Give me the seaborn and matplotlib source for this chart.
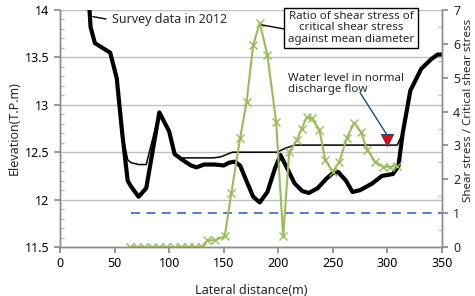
import numpy as np
import pandas as pd
import matplotlib
matplotlib.use("Agg")
import matplotlib.pyplot as plt
from matplotlib.ticker import MultipleLocator, FormatStrFormatter
import seaborn as sns

# ==============================
# Datos
# ==============================
# Sección transversal 2012 (línea gruesa)
dist_2012 = [25, 28, 32, 46, 52, 57, 62, 65, 72, 79, 91, 100, 105, 112, 120, 125,
             132, 142, 150, 155, 160, 165, 170, 177, 183, 190, 197, 202, 209, 215,
             222, 228, 236, 244, 250, 255, 262, 268, 275, 286, 295, 305, 310, 314,
             321, 331, 340, 346, 350]
elev_2012 = [14.4, 13.82, 13.65, 13.55, 13.28, 12.7, 12.2, 12.14, 12.03, 12.12, 12.92,
             12.72, 12.48, 12.42, 12.36, 12.34, 12.37, 12.37, 12.36, 12.39, 12.40,
             12.36, 12.22, 12.03, 11.97, 12.08, 12.33, 12.47, 12.31, 12.17, 12.09,
             12.07, 12.12, 12.22, 12.28, 12.29, 12.2, 12.08, 12.1, 12.17, 12.25,
             12.27, 12.35, 12.7, 13.15, 13.38, 13.48, 13.53, 13.53]

# Línea delgada
dist_fina = [57, 62, 65, 72, 79, 91, 100, 105, 110, 125, 140, 147, 158, 199, 206,
             215, 309, 314]
elev_fina = [12.7, 12.42, 12.39, 12.37, 12.37, 12.92, 12.72, 12.48, 12.44, 12.44,
             12.44, 12.45, 12.5, 12.5, 12.54, 12.575, 12.575, 12.7]

# Relación esfuerzo cortante / esfuerzo crítico (eje derecho)
dist_ratio = [64, 70.7, 77.4, 84, 90.8, 97.5, 104, 111, 117.6, 124, 130, 135, 142,
              151, 157, 165, 171, 177, 183, 190, 198, 204.5, 210, 217, 221.5, 226,
              230.7, 237.7, 243, 250, 256, 262.7, 269.5, 275.6, 281.7, 288.7, 296.3,
              302.5, 308.6]
ratio = [0, 0, 0, 0, 0, 0, 0, 0, 0, 0, 0, 0.2, 0.2, 0.32, 1.6, 3.21, 4.29, 5.96,
         6.62, 5.67, 3.70, 0.32, 2.8, 3.16, 3.5, 3.83, 3.80, 3.46, 2.57, 2.22, 2.52,
         3.21, 3.67, 3.40, 2.86, 2.52, 2.37, 2.37, 2.39]

# Línea de referencia (relación = 1)
dist_ref = [65, 350]
ratio_ref = [1, 1]

# Nivel de agua en caudal normal
dist_agua = [300]
ratio_agua = [3.16]

df_2012 = pd.DataFrame({"dist": dist_2012, "elev": elev_2012})
df_fina = pd.DataFrame({"dist": dist_fina, "elev": elev_fina})
df_ratio = pd.DataFrame({"dist": dist_ratio, "ratio": ratio})

# ==============================
# Gráfico
# ==============================
sns.set_theme(style="ticks")
plt.rcParams["font.family"] = ["Noto Sans", "DejaVu Sans"]

fig = plt.figure(figsize=(4.75, 2.96), dpi=100)
ax = fig.add_axes([60 / 475, 49 / 296, 382 / 475, 237 / 296])
ax2 = ax.twinx()

gris = "#8c8c8c"
verde = "#9bbb59"

sns.lineplot(data=df_fina, x="dist", y="elev", sort=False, color="black",
             linewidth=1.1, ax=ax)
sns.lineplot(data=df_2012, x="dist", y="elev", sort=False, color="black",
             linewidth=3.0, ax=ax)

sns.lineplot(x=dist_ref, y=ratio_ref, color="#4472c4", linewidth=1.3,
             linestyle=(0, (5, 3.5)), ax=ax2)
sns.lineplot(data=df_ratio, x="dist", y="ratio", sort=False, color=verde,
             linewidth=1.5, marker="x", markersize=6, markeredgewidth=1.0,
             markeredgecolor=verde, ax=ax2)
ax2.plot(dist_agua, ratio_agua, marker="v", markersize=8.5, color="#ff0000",
         markeredgecolor="#1f497d", markeredgewidth=0.8, linestyle="none")

# Ejes
ax.set_xlim(0, 350)
ax.set_ylim(11.5, 14)
ax2.set_ylim(0, 7)
ax.xaxis.set_major_locator(MultipleLocator(50))
ax.yaxis.set_major_locator(MultipleLocator(0.5))
ax.yaxis.set_minor_locator(MultipleLocator(0.1))
ax.yaxis.set_major_formatter(FormatStrFormatter("%g"))
ax2.yaxis.set_major_locator(MultipleLocator(1))
ax2.yaxis.set_minor_locator(MultipleLocator(0.5))

ax.grid(axis="y", which="major", color="#c0c0c0", linewidth=1.0)
ax.set_axisbelow(True)

for a in (ax, ax2):
    for s in a.spines.values():
        s.set_color(gris)
        s.set_linewidth(1.0)
    a.spines["top"].set_visible(False)
ax.tick_params(axis="both", which="major", direction="out", length=4, color=gris,
               labelsize=9, colors="black")
ax.tick_params(axis="x", which="major", labelcolor="black", color=gris)
ax.tick_params(axis="y", which="minor", direction="in", length=3, color="#bfbfbf")
ax2.tick_params(axis="y", which="major", direction="out", length=4, color=gris,
                labelsize=9, pad=4)
ax2.tick_params(axis="y", which="minor", direction="in", length=3, color="#bfbfbf")

ax.set_xlabel("Lateral distance(m)", fontsize=9, labelpad=10)
ax.set_ylabel("Elevation(T.P.m)", fontsize=9, labelpad=3)
ax2.set_ylabel("")
fig.text(468.5 / 475, 1 - 110 / 296, "Shear stress / Critical shear stress",
         rotation=90, ha="center", va="center", fontsize=8.3)

# Anotaciones
ax.plot([30.2, 42.1], [13.93, 13.905], color="black", linewidth=1.0)
ax.text(47.6, 13.905, "Survey data in 2012", fontsize=9, ha="left", va="center")

ax2.plot([185, 205.2], [6.56, 6.44], color="black", linewidth=1.0)
ax2.text(266.6, 6.47, "Ratio of shear stress of\ncritical shear stress\nagainst mean diameter",
         fontsize=8.3, ha="center", va="center", linespacing=1.05,
         bbox=dict(boxstyle="square,pad=0.3", facecolor="white", edgecolor="black",
                   linewidth=1.0))

ax2.plot([274.9, 299.6], [4.56, 3.31], color="#1f497d", linewidth=1.0)
ax2.text(209, 4.8, "Water level in normal\ndischarge flow", fontsize=8.3,
         ha="left", va="center", linespacing=1.0)

fig.savefig("out.png", dpi=100)
plt.close(fig)
